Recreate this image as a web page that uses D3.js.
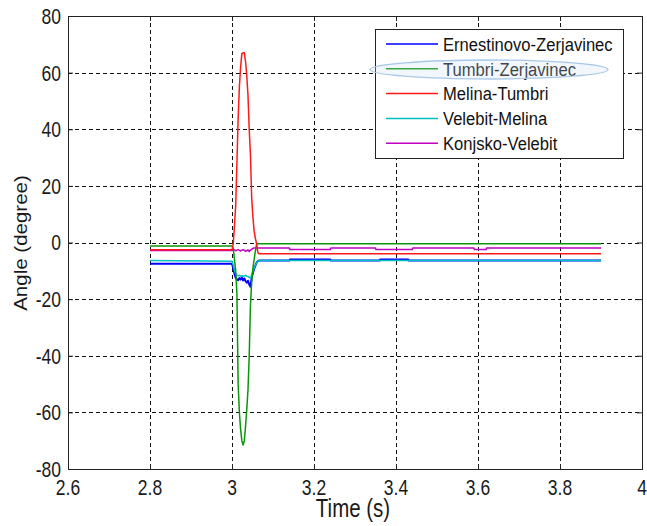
<!DOCTYPE html>
<html>
<head>
<meta charset="utf-8">
<script src="https://cdn.jsdelivr.net/npm/d3@7"></script>
<style>
html,body{margin:0;padding:0;background:#fff;}
svg{display:block;font-family:"Liberation Sans",Arial,sans-serif;}
</style>
</head>
<body>
<svg id="chart" width="647" height="526"></svg>
<script>
// ---- data ----
const time = [2.8, 3.000, 3.003, 3.006, 3.009, 3.012, 3.015, 3.018, 3.021, 3.024, 3.027, 3.030,
  3.033, 3.036, 3.039, 3.042, 3.045, 3.048, 3.051, 3.054, 3.057, 3.060, 3.063, 3.066, 3.070,
  3.140, 3.141, 3.240, 3.241, 3.350, 3.351, 3.360, 3.361, 3.430, 3.431, 3.440, 3.441,
  3.590, 3.591, 3.620, 3.621, 3.900];
const ernestinovoZerjavinec = [-7.5, -7.5, -9, -11, -12.5, -13, -13.3, -12.6, -13.1, -12.4, -13.4, -12.7,
  -13.6, -14.2, -13.5, -14.8, -15.6, -12.4, -10.8, -9.3, -8.2, -7.1, -6.6, -6.4, -6.4,
  -6.4, -6.0, -6.0, -6.4, -6.4, -6.4, -6.4, -6.0, -6.0, -6.4, -6.4, -6.4,
  -6.4, -6.4, -6.4, -6.4, -6.4];
const tumbriZerjavinec = [-1.2, -1.2, -2, -6, -10, -18, -50, -60, -66, -70, -71.5, -70,
  -65, -59, -52, -40, -22, -14, -9, -6, -3, -0.6, -0.4, -0.4, -0.4,
  -0.4, -0.4, -0.4, -0.4, -0.4, -0.4, -0.4, -0.4, -0.4, -0.4, -0.4, -0.4,
  -0.4, -0.4, -0.4, -0.4, -0.4];
const melinaTumbri = [-2.6, -2.6, -0.5, 6, 13, 28, 44, 55, 62, 66.7, 67, 67,
  64, 59, 52, 40, 31, 16, 9, 4, 1.5, -0.5, -3.5, -4, -4,
  -4, -4, -4, -4, -4, -4, -4, -4, -4, -4, -4, -4,
  -4, -4, -4, -4, -4];
const velebitMelina = [-6.4, -6.6, -8, -10, -11, -11.5, -11.8, -11.6, -11.9, -11.7, -12, -11.8,
  -11.6, -11.9, -12, -12.3, -12.6, -11.5, -10.2, -9, -8, -7.2, -6.6, -6.4, -6.4,
  -6.4, -6.4, -6.4, -6.4, -6.4, -6.4, -6.4, -6.4, -6.4, -6.4, -6.4, -6.4,
  -6.4, -6.4, -6.4, -6.4, -6.4];
const konjskoVelebit = [-2.8, -2.8, -2.3, -2.6, -2.9, -2.7, -2.5, -2.8, -3.0, -2.7, -2.5, -2.8,
  -3.1, -2.9, -2.6, -3.2, -2.7, -2.4, -2.1, -1.9, -1.9, -1.9, -1.9, -1.9, -1.9,
  -1.9, -2.5, -2.5, -1.9, -1.9, -2.5, -2.5, -2.5, -2.5, -2.5, -2.5, -1.9,
  -1.9, -2.5, -2.5, -1.9, -1.9];

const seriesNames = ["Ernestinovo-Zerjavinec", "Tumbri-Zerjavinec", "Melina-Tumbri", "Velebit-Melina", "Konjsko-Velebit"];
const seriesValues = [ernestinovoZerjavinec, tumbriZerjavinec, melinaTumbri, velebitMelina, konjskoVelebit];
const seriesColors = ["#0000ff", "#0a960a", "#ff1a1a", "#00c0c0", "#c000c0"];
const drawOrder = [0, 3, 4, 1, 2];

const xTicks = [2.6, 2.8, 3.0, 3.2, 3.4, 3.6, 3.8, 4.0];
const xTickLabels = ["2.6", "2.8", "3", "3.2", "3.4", "3.6", "3.8", "4"];
const yTicks = [80, 60, 40, 20, 0, -20, -40, -60, -80];
const yTickLabels = ["80", "60", "40", "20", "0", "-20", "-40", "-60", "-80"];
const xLabel = "Time (s)";
const yLabel = "Angle (degree)";

// ---- layout ----
const pLeft = 68, pRight = 642, pTop = 16, pBottom = 469;
const svg = d3.select("#chart");
const x = d3.scaleLinear().domain([2.6, 4.0]).range([pLeft, pRight]);
const y = d3.scaleLinear().domain([-80, 80]).range([pBottom, pTop]);

// grid
const grid = svg.append("g").attr("stroke", "#111").attr("stroke-width", 1).attr("stroke-dasharray", "4,3");
grid.selectAll("line.v").data(xTicks.slice(1, -1)).join("line")
  .attr("x1", d => Math.round(x(d)) + 0.5).attr("x2", d => Math.round(x(d)) + 0.5)
  .attr("y1", pTop).attr("y2", pBottom);
grid.selectAll("line.h").data(yTicks.slice(1, -1)).join("line")
  .attr("y1", d => Math.round(y(d)) + 0.5).attr("y2", d => Math.round(y(d)) + 0.5)
  .attr("x1", pLeft).attr("x2", pRight);

// axes via d3 axis (ticks inside)
const axB = svg.append("g").attr("transform", `translate(0,${pBottom})`)
  .call(d3.axisBottom(x).tickValues(xTicks).tickSizeInner(-5).tickSizeOuter(0).tickFormat(""));
const axT = svg.append("g").attr("transform", `translate(0,${pTop})`)
  .call(d3.axisTop(x).tickValues(xTicks).tickSizeInner(-5).tickSizeOuter(0).tickFormat(""));
const axL = svg.append("g").attr("transform", `translate(${pLeft},0)`)
  .call(d3.axisLeft(y).tickValues(yTicks).tickSizeInner(-5).tickSizeOuter(0).tickFormat(""));
const axR = svg.append("g").attr("transform", `translate(${pRight},0)`)
  .call(d3.axisRight(y).tickValues(yTicks).tickSizeInner(-5).tickSizeOuter(0).tickFormat(""));
[axB, axT, axL, axR].forEach(a => { a.select(".domain").remove(); a.selectAll("line").attr("stroke", "#222"); });

// lines
const line = d3.line().x((d, i) => x(time[i])).y(d => y(d));
const lg = svg.append("g").attr("fill", "none").attr("stroke-linejoin", "round");
drawOrder.forEach(k => {
  lg.append("path").datum(seriesValues[k]).attr("d", line)
    .attr("stroke", seriesColors[k]).attr("stroke-width", k === 0 ? 2 : 1.5);
});

// box
svg.append("rect").attr("x", pLeft + 0.5).attr("y", pTop + 0.5)
  .attr("width", pRight - pLeft).attr("height", pBottom - pTop)
  .attr("fill", "none").attr("stroke", "#222").attr("stroke-width", 1);

// tick labels
svg.append("g").selectAll("g").data(xTicks).join("g")
  .attr("transform", d => `translate(${x(d)},494.5) scale(1,1.25)`)
  .append("text").attr("text-anchor", "middle").attr("font-size", 17.5).attr("fill", "#1a1a1a")
  .text((d, i) => xTickLabels[i]);
svg.append("g").selectAll("g").data(yTicks).join("g")
  .attr("transform", d => `translate(61,${y(d)}) scale(1,1.25)`)
  .append("text").attr("text-anchor", "end").attr("dy", "0.36em").attr("font-size", 17.5).attr("fill", "#1a1a1a")
  .text((d, i) => yTickLabels[i]);

// axis labels
svg.append("g").attr("transform", "translate(353,517) scale(1,1.27)")
  .append("text").attr("text-anchor", "middle").attr("font-size", 20.5).attr("fill", "#1a1a1a").text(xLabel);
svg.append("g").attr("transform", "translate(27,243) rotate(-90) scale(1.08,1)")
  .append("text").attr("text-anchor", "middle").attr("font-size", 19).attr("fill", "#1a1a1a").text(yLabel);

// legend
const legX = 375, legY = 29, legW = 248, legH = 129;
const leg = svg.append("g");
leg.append("rect").attr("x", legX + 0.5).attr("y", legY + 0.5).attr("width", legW).attr("height", legH)
  .attr("fill", "#fff").attr("stroke", "#222").attr("stroke-width", 1);
seriesNames.forEach((name, i) => {
  const ly = 44 + i * 24.8;
  leg.append("line").attr("x1", 386).attr("x2", 438).attr("y1", ly).attr("y2", ly)
    .attr("stroke", seriesColors[i]).attr("stroke-width", 1.5);
  leg.append("g").attr("transform", `translate(443,${ly}) scale(1,1.12)`)
    .append("text").attr("dy", "0.36em").attr("font-size", 16.6).attr("fill", "#111").text(name);
});
// highlight ellipse
leg.append("ellipse").attr("cx", 489).attr("cy", 69.5).attr("rx", 119).attr("ry", 9.5)
  .attr("fill", "rgba(200,222,245,0.25)").attr("stroke", "#a8c8e8").attr("stroke-width", 1.3);
</script>
</body>
</html>
